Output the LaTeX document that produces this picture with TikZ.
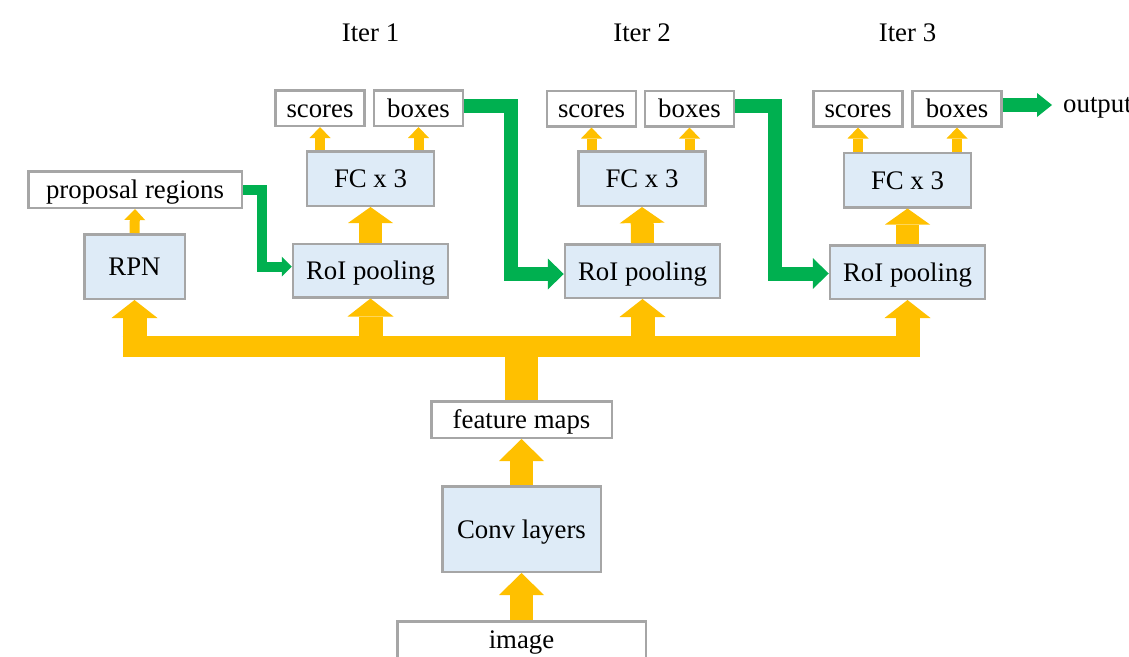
\documentclass[tikz,border=0pt]{standalone}
\usepackage{fontspec}
\setmainfont{Liberation Serif}
\usetikzlibrary{arrows.meta}
\definecolor{yel}{HTML}{FFC000}
\definecolor{grn}{HTML}{00B050}
\definecolor{bfill}{HTML}{DEEBF7}
\definecolor{bord}{HTML}{A6A6A6}
\begin{document}
\begin{tikzpicture}[x=1pt,y=-1pt,
  every node/.style={font=\fontsize{26.8}{32}\selectfont, inner sep=0pt},
  box/.style={draw=bord, line width=2.5pt, fill=bfill, text height=24pt, text depth=5.5pt},
  wbox/.style={box, fill=white},
  sbox/.style={wbox, minimum width=89pt, minimum height=35.5pt},
  fcbox/.style={box, minimum width=127pt, minimum height=54.5pt},
  roibox/.style={box, minimum width=155pt, minimum height=53.5pt},
  yS/.style={draw=yel, line width=10pt, -{Triangle[length=11pt,width=21pt,line width=0pt]}},
  yM/.style={draw=yel, line width=23pt, -{Triangle[length=16pt,width=45pt,line width=0pt]}},
  yL/.style={draw=yel, line width=23pt, -{Triangle[length=22pt,width=45pt,line width=0pt]}},
  yB/.style={draw=yel, line width=24pt, -{Triangle[length=18pt,width=46pt,line width=0pt]}},
  ybus/.style={draw=yel, line width=21pt},
  ytrunk/.style={draw=yel, line width=33pt},
  gA/.style={draw=grn, line width=10pt, -{Triangle[length=10pt,width=20pt,line width=0pt]}},
  gB/.style={draw=grn, line width=14pt, -{Triangle[length=16pt,width=31pt,line width=0pt]}},
  gC/.style={draw=grn, line width=14pt, -{Triangle[length=15pt,width=24pt,line width=0pt]}},
  ]
\clip (0,0) rectangle (1129,656);

% titles
\node[anchor=base] (t1) at (370.5,41) {Iter 1};
\node[anchor=base] (t2) at (642,41) {Iter 2};
\node[anchor=base] (t3) at (907.5,41) {Iter 3};

% left column
\node[wbox, minimum width=213.5pt, minimum height=36.5pt] (prop) at (135,189.5) {proposal regions};
\node[box, minimum width=100.5pt, minimum height=64.5pt] (rpn) at (134.5,266.5) {RPN};

% iteration 1
\node[sbox] (sc1) at (320,108) {scores};
\node[sbox] (bx1) at (418.5,108) {boxes};
\node[fcbox] (fc1) at (370.5,178.5) {FC x 3};
\node[roibox] (roi1) at (370.5,270.5) {RoI pooling};

% iteration 2
\node[sbox] (sc2) at (591.5,108.5) {scores};
\node[sbox] (bx2) at (689.5,108.5) {boxes};
\node[fcbox] (fc2) at (642,178.5) {FC x 3};
\node[roibox] (roi2) at (642.5,271) {RoI pooling};

% iteration 3
\node[sbox] (sc3) at (858,108.5) {scores};
\node[sbox] (bx3) at (957,108.5) {boxes};
\node[fcbox] (fc3) at (907.5,180) {FC x 3};
\node[roibox] (roi3) at (907.5,272) {RoI pooling};

% bottom column
\node[wbox, minimum width=180.5pt, minimum height=36.5pt] (fmap) at (521.5,419.5) {feature maps};
\node[box, minimum width=158.5pt, minimum height=85.5pt] (conv) at (521.5,529) {Conv layers};
\node[wbox, minimum width=248.5pt, minimum height=36.5pt] (img) at (521.5,639.5) {image};

\node[anchor=base west] (outlbl) at (1063,112) {output};
\coordinate (outtip) at (1052,105);
\coordinate (busc) at (521.5,346);

% yellow arrows
\draw[yL] (img.north) -- (conv.south);
\draw[yL] (conv.north) -- (fmap.south);
\draw[ytrunk] (fmap.north) -- (fmap.north |- busc);
\draw[ybus] ([xshift=-12pt]rpn.south |- busc) -- ([xshift=12.5pt]roi3.south |- busc);
\draw[yB] (rpn.south |- busc) -- (rpn.south);
\draw[yB] (roi1.south |- busc) -- (roi1.south);
\draw[yB] (roi2.south |- busc) -- (roi2.south);
\draw[yB] (roi3.south |- busc) -- (roi3.south);
\draw[yS] (rpn.north) -- (prop.south);
\draw[yM] (roi1.north) -- (fc1.south);
\draw[yM] (roi2.north) -- (fc2.south);
\draw[yM] (roi3.north) -- (fc3.south);
\draw[yS] (sc1.south |- fc1.north) -- (sc1.south);
\draw[yS] (bx1.south |- fc1.north) -- (bx1.south);
\draw[yS] (sc2.south |- fc2.north) -- (sc2.south);
\draw[yS] (bx2.south |- fc2.north) -- (bx2.south);
\draw[yS] (sc3.south |- fc3.north) -- (sc3.south);
\draw[yS] (bx3.south |- fc3.north) -- (bx3.south);

% green arrows
\draw[gA] (prop.east) -- ++(19,0) |- ([yshift=4pt]roi1.west);
\draw[gB] ([yshift=2pt]bx1.east) -- ++(46.5,0) |- ([yshift=-3pt]roi2.west);
\draw[gB] ([yshift=3pt]bx2.east) -- ++(40,0) |- ([yshift=-1.5pt]roi3.west);
\draw[gC] ([yshift=3.5pt]bx3.east) -- (outtip);
\end{tikzpicture}
\end{document}
